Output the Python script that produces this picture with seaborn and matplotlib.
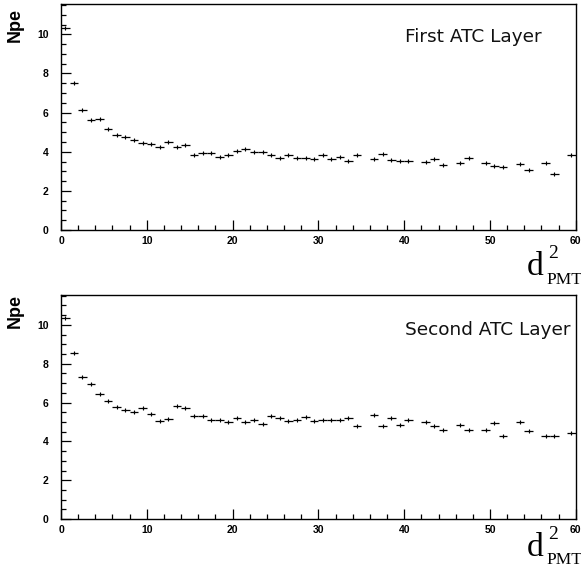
import numpy as np
import pandas as pd
import seaborn as sns
import matplotlib.pyplot as plt

# Npe per bin of d^2_PMT (bin width 1, 0..60); nan = empty bin
bin_centers = np.arange(60) + 0.5
npe_first = [10.30, 7.53, 6.12, 5.60, 5.67, 5.17, 4.85, 4.75, 4.58, 4.46,
             4.39, 4.22, 4.50, 4.22, 4.33, 3.85, 3.92, 3.92, 3.75, 3.85,
             4.06, 4.15, 4.01, 4.01, 3.83, 3.70, 3.83, 3.70, 3.70, 3.64,
             3.81, 3.61, 3.71, 3.51, 3.81, np.nan, 3.64, 3.86, 3.59, 3.54,
             3.54, np.nan, 3.49, 3.64, 3.30, np.nan, 3.43, 3.68, np.nan, 3.42,
             3.27, 3.24, np.nan, 3.36, 3.07, np.nan, 3.40, 2.86, np.nan, 3.85]
npe_second = [10.38, 8.57, 7.32, 6.94, 6.42, 6.07, 5.75, 5.62, 5.52, 5.70,
              5.40, 5.05, 5.18, 5.80, 5.70, 5.30, 5.30, 5.13, 5.13, 4.99,
              5.23, 5.02, 5.10, 4.90, 5.31, 5.19, 5.05, 5.13, 5.24, 5.06,
              5.13, 5.11, 5.11, 5.19, 4.82, np.nan, 5.38, 4.82, 5.21, 4.85,
              5.11, np.nan, 4.99, 4.77, 4.59, np.nan, 4.87, 4.59, np.nan, 4.59,
              4.95, 4.28, np.nan, 4.99, 4.56, np.nan, 4.30, 4.28, np.nan, 4.45]
layer_names = ["First ATC Layer", "Second ATC Layer"]

sns.set_theme(style="ticks")
plt.rcParams['font.family'] = ['Liberation Sans', 'DejaVu Sans']
for k in ['text.color', 'axes.labelcolor', 'xtick.color', 'ytick.color', 'axes.edgecolor']:
    plt.rcParams[k] = 'black'

fig = plt.figure(figsize=(5.81, 5.68), dpi=100)
ax_top = fig.add_axes([0.105, 0.595, 0.886, 0.398])
ax_bot = fig.add_axes([0.105, 0.086, 0.886, 0.395])

for ax, vals, name, ty in [(ax_top, npe_first, layer_names[0], 0.832),
                           (ax_bot, npe_second, layer_names[1], 0.82)]:
    df = pd.DataFrame({"d2": bin_centers, "npe": vals}).dropna()
    ax.errorbar(df["d2"], df["npe"], xerr=0.5, yerr=0.05, fmt='none',
                ecolor='black', elinewidth=0.9, capsize=0)
    sns.scatterplot(data=df, x="d2", y="npe", ax=ax, marker='|', s=10,
                    color='black', linewidth=0.8, legend=False)
    ax.set_xlim(0, 60)
    ax.set_ylim(0, 11.55)
    ax.set_xlabel("")
    ax.set_ylabel("")
    ax.set_xticks(np.arange(0, 61, 10))
    ax.set_xticks(np.arange(0, 61, 2), minor=True)
    ax.set_yticks(np.arange(0, 11, 2))
    ax.set_yticks(np.arange(0, 11.6, 0.5), minor=True)
    ax.tick_params(which='major', direction='in', length=7, width=0.9,
                   top=False, right=False, labelsize=7.5, pad=4)
    ax.tick_params(which='minor', direction='in', length=3.6, width=0.9,
                   top=False, right=False)
    ax.tick_params(axis='y', which='major', pad=9)
    for lab in ax.get_xticklabels() + ax.get_yticklabels():
        lab.set_fontweight('bold')
    for sp in ax.spines.values():
        sp.set_linewidth(1.0)
        sp.set_visible(True)
    ax.text(0.668, ty, name, transform=ax.transAxes, fontsize=13.3,
            family=['DejaVu Sans'], ha='left', va='baseline', color='#111111')

# axis titles
for yc in [25, 311]:
    fig.text(15 / 581, 1 - yc / 568, "Npe", rotation=90, fontsize=13,
             fontweight='bold', ha='center', va='center')

# d^2_PMT built from pieces (Times-like serif)
serif = ['Liberation Serif', 'DejaVu Serif']
for base in [275, 556]:
    fig.text(527 / 581, 1 - base / 568, "d", fontsize=24, family=serif,
             ha='left', va='baseline')
    fig.text(548 / 581, 1 - (base - 17) / 568, "2", fontsize=14, family=serif,
             ha='left', va='baseline')
    fig.text(546 / 581, 1 - min(base + 9, 564) / 568, "PMT", fontsize=12.5,
             family=serif, ha='left', va='baseline')

fig.savefig("out.png", dpi=100)
